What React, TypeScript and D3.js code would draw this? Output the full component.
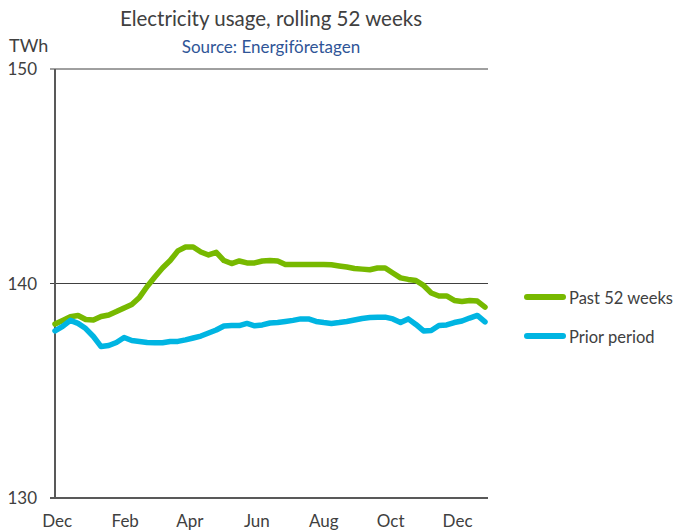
import React from 'react';
import * as d3 from 'd3';

const startDate = new Date(2022, 10, 29);
const past52Weeks = [
  138.11, 138.28, 138.45, 138.51, 138.32, 138.3, 138.46, 138.53, 138.69, 138.86,
  139.02, 139.35, 139.86, 140.3, 140.72, 141.07, 141.52, 141.7, 141.7, 141.47,
  141.33, 141.45, 141.07, 140.93, 141.05, 140.96, 140.96, 141.05, 141.07, 141.05,
  140.89, 140.89, 140.89, 140.89, 140.89, 140.89, 140.87, 140.82, 140.77, 140.7,
  140.67, 140.64, 140.72, 140.72, 140.49, 140.26, 140.19, 140.14, 139.91, 139.56,
  139.42, 139.42, 139.21, 139.16, 139.21, 139.18, 138.9,
];
const priorPeriod = [
  137.79, 138.0, 138.28, 138.14, 137.9, 137.53, 137.06, 137.11, 137.25, 137.48,
  137.34, 137.3, 137.25, 137.24, 137.24, 137.3, 137.3, 137.37, 137.46, 137.55,
  137.69, 137.83, 138.02, 138.04, 138.04, 138.14, 138.03, 138.07, 138.16, 138.18,
  138.23, 138.28, 138.35, 138.35, 138.23, 138.18, 138.14, 138.18, 138.23, 138.3,
  138.37, 138.41, 138.43, 138.43, 138.35, 138.18, 138.35, 138.09, 137.79, 137.81,
  138.04, 138.07, 138.18, 138.25, 138.39, 138.51, 138.21,
];
const yTicks = [130, 140, 150];
const seriesNames = ['Past 52 weeks', 'Prior period'];
const seriesColors = ['#77b900', '#00b5e2'];

const FONT = 'Lato, "Open Sans", sans-serif';
const TEXT = '#404040';

export default function App() {
  const W = 674;
  const H = 532;
  const dates = past52Weeks.map((_, i) => d3.timeWeek.offset(startDate, i));
  const x = d3
    .scaleTime()
    .domain([dates[0], dates[dates.length - 1]])
    .range([55, 485]);
  const y = d3.scaleLinear().domain([130, 150]).range([498, 69]);
  const line = d3
    .line<number>()
    .x((_, i) => x(dates[i]))
    .y((d) => y(d))
    .curve(d3.curveLinear);
  const monthTicks = d3.timeMonth.range(
    d3.timeMonth.ceil(dates[0]),
    d3.timeDay.offset(dates[dates.length - 1], 1),
    2
  );
  const fmt = d3.timeFormat('%b');
  const series = [past52Weeks, priorPeriod];

  return (
    <svg width={W} height={H} style={{ position: 'absolute', left: 0, top: 0 }}>
      <rect width={W} height={H} fill="#ffffff" />
      <text x={271} y={26} textAnchor="middle" fontFamily={FONT} fontSize={20.5} fill={TEXT}>
        Electricity usage, rolling 52 weeks
      </text>
      <text x={271} y={53} textAnchor="middle" fontFamily={FONT} fontSize={17} fill="#2f5597">
        Source: Energiföretagen
      </text>
      <text x={9} y={52} fontFamily={FONT} fontSize={18} fill={TEXT}>
        TWh
      </text>
      {yTicks.map((t) => (
        <g key={t}>
          <line
            x1={50}
            x2={488}
            y1={y(t)}
            y2={y(t)}
            stroke={t === 130 ? '#595959' : '#404040'}
            strokeWidth={t === 130 ? 2 : 1}
          />
          <text
            x={37}
            y={y(t) + 6}
            textAnchor="end"
            fontFamily={FONT}
            fontSize={17}
            fill={TEXT}
          >
            {t}
          </text>
        </g>
      ))}
      <line x1={55} x2={55} y1={y(150)} y2={y(130) + 1} stroke="#595959" strokeWidth={2} />
      {monthTicks.map((d, i) => (
        <text
          key={i}
          x={x(d)}
          y={527}
          textAnchor="middle"
          fontFamily={FONT}
          fontSize={17}
          fill={TEXT}
        >
          {fmt(d)}
        </text>
      ))}
      {series.map((s, i) => (
        <path
          key={i}
          d={line(s) || ''}
          fill="none"
          stroke={seriesColors[i]}
          strokeWidth={5.5}
          strokeLinejoin="round"
          strokeLinecap="round"
        />
      ))}
      {seriesNames.map((n, i) => (
        <g key={n} transform={`translate(0, ${297 + i * 39})`}>
          <line x1={527} x2={563} y1={0} y2={0} stroke={seriesColors[i]} strokeWidth={6} strokeLinecap="round" />
          <text x={569} y={7} fontFamily={FONT} fontSize={16.5} fill={TEXT}>
            {n}
          </text>
        </g>
      ))}
    </svg>
  );
}
